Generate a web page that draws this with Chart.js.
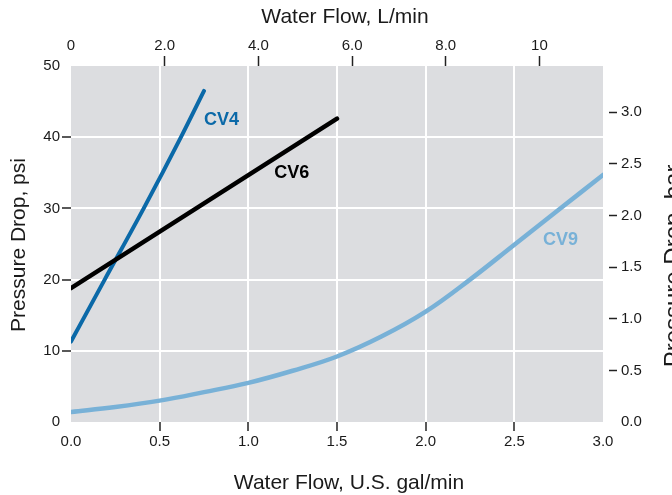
<!DOCTYPE html>
<html>
<head>
<meta charset="utf-8">
<script src="https://cdn.jsdelivr.net/npm/chart.js@4.4.0/dist/chart.umd.min.js"></script>
<style>
html, body { margin: 0; padding: 0; background: #ffffff; }
#wrap { width: 672px; height: 495px; }
</style>
</head>
<body>
<div id="wrap"><canvas id="flowchart" width="672" height="495"></canvas></div>
<script>
// flow in U.S. gal/min, pressure drop in psi
const cv4Flow = [0, 0.19, 0.41, 0.62, 0.75];
const cv4Psi  = [11.3, 20, 30, 40, 46.5];
const cv6Flow = [0, 1.5];
const cv6Psi  = [18.8, 42.6];
const cv9Flow = [0, 0.25, 0.5, 0.75, 1.0, 1.25, 1.5, 1.75, 2.0, 2.25, 2.5, 2.75, 3.0];
const cv9Psi  = [1.4, 2.1, 3.0, 4.2, 5.5, 7.2, 9.2, 12.0, 15.5, 20.0, 24.9, 29.8, 34.7];

const galTicks = ['0.0', '0.5', '1.0', '1.5', '2.0', '2.5', '3.0'];
const lpmTicks = ['0', '2.0', '4.0', '6.0', '8.0', '10'];
const psiTicks = ['0', '10', '20', '30', '40', '50'];
const barTicks = ['0.0', '0.5', '1.0', '1.5', '2.0', '2.5', '3.0'];

const LPM_PER_GAL = 3.78541;
const PSI_PER_BAR = 14.5038;
const FONT = '"Liberation Sans", Arial, Helvetica, sans-serif';

function pts(xs, ys) {
    return xs.map((x, i) => ({ x: x, y: ys[i] }));
}

// curve names placed beside each line (data coordinates)
const curveLabels = [
    { text: 'CV4', x: 0.849, y: 42.4, color: '#0b69a8' },
    { text: 'CV6', x: 1.245, y: 35.0, color: '#000000' },
    { text: 'CV9', x: 2.761, y: 25.5, color: '#78b1d7' }
];

const decor = {
    id: 'decor',
    beforeDraw(chart) {
        const a = chart.chartArea;
        const ctx = chart.ctx;
        ctx.save();
        ctx.fillStyle = '#dcdde0';
        ctx.fillRect(a.left, a.top, a.right - a.left, a.bottom - a.top);
        ctx.restore();
    },
    afterDraw(chart) {
        const ctx = chart.ctx;
        const xs = chart.scales.x;
        const ys = chart.scales.y;
        ctx.save();
        ctx.fillStyle = '#1a1a1a';
        ctx.font = '21px ' + FONT;
        ctx.textAlign = 'center';
        ctx.textBaseline = 'middle';
        ctx.fillText('Water Flow, L/min', 345, 17);
        ctx.fillText('Water Flow, U.S. gal/min', 349, 483);

        ctx.save();
        ctx.translate(19, 245);
        ctx.rotate(-Math.PI / 2);
        ctx.fillText('Pressure Drop, psi', 0, 0);
        ctx.restore();

        // right title runs off the edge of the picture
        ctx.save();
        ctx.translate(681, 266);
        ctx.rotate(-Math.PI / 2);
        ctx.font = '24px ' + FONT;
        ctx.textBaseline = 'alphabetic';
        ctx.fillText('Pressure Drop, bar', 0, 0);
        ctx.restore();

        ctx.font = 'bold 18px ' + FONT;
        curveLabels.forEach(l => {
            ctx.fillStyle = l.color;
            ctx.fillText(l.text, xs.getPixelForValue(l.x), ys.getPixelForValue(l.y));
        });
        ctx.restore();
    }
};

function inner(lo, hi, col) {
    return c => (c.tick && c.tick.value > lo + 1e-6 && c.tick.value < hi - 1e-6) ? col : 'rgba(0,0,0,0)';
}

Chart.defaults.font.family = FONT;
Chart.defaults.font.size = 15;
Chart.defaults.color = '#1a1a1a';

new Chart(document.getElementById('flowchart'), {
    type: 'line',
    data: {
        datasets: [
            {
                label: 'CV6',
                data: pts(cv6Flow, cv6Psi),
                borderColor: '#000000',
                borderWidth: 4.5,
                tension: 0
            },
            {
                label: 'CV4',
                data: pts(cv4Flow, cv4Psi),
                borderColor: '#0b69a8',
                borderWidth: 4,
                tension: 0.3,
                cubicInterpolationMode: 'monotone'
            },
            {
                label: 'CV9',
                data: pts(cv9Flow, cv9Psi),
                borderColor: '#78b1d7',
                borderWidth: 4.5,
                tension: 0.4
            }
        ]
    },
    options: {
        responsive: false,
        devicePixelRatio: 1,
        animation: false,
        layout: { padding: 0 },
        elements: {
            point: { radius: 0 },
            line: { borderCapStyle: 'round', fill: false }
        },
        plugins: {
            legend: { display: false },
            tooltip: { enabled: false }
        },
        scales: {
            x: {
                type: 'linear',
                position: 'bottom',
                min: 0,
                max: 3,
                afterFit: s => { s.height = 73; },
                border: { display: false },
                grid: {
                    color: inner(0, 3, '#ffffff'),
                    lineWidth: 2,
                    tickColor: inner(0, 3, '#222222'),
                    tickWidth: 1.5,
                    tickLength: 9
                },
                ticks: {
                    stepSize: 0.5,
                    padding: 2,
                    maxRotation: 0,
                    callback: (v, i) => galTicks[i]
                }
            },
            x2: {
                type: 'linear',
                position: 'top',
                min: 0,
                max: 3 * LPM_PER_GAL,
                afterFit: s => { s.height = 66; },
                border: { display: false },
                grid: {
                    drawOnChartArea: false,
                    tickColor: inner(0, 99, '#222222'),
                    tickWidth: 1.5,
                    tickLength: 10
                },
                ticks: {
                    stepSize: 2,
                    includeBounds: false,
                    padding: 1,
                    maxRotation: 0,
                    callback: (v, i) => lpmTicks[i]
                }
            },
            y: {
                type: 'linear',
                position: 'left',
                min: 0,
                max: 50,
                afterFit: s => { s.width = 71; },
                border: { display: false },
                grid: {
                    color: inner(0, 50, '#ffffff'),
                    lineWidth: 2,
                    tickColor: inner(0, 50, '#222222'),
                    tickWidth: 1.5,
                    tickLength: 9
                },
                ticks: {
                    stepSize: 10,
                    padding: 2,
                    callback: (v, i) => psiTicks[i]
                }
            },
            y2: {
                type: 'linear',
                position: 'right',
                min: 0,
                max: 50 / PSI_PER_BAR,
                afterFit: s => { s.width = 69; },
                border: { display: false },
                grid: {
                    drawOnChartArea: false,
                    tickColor: inner(0, 99, '#222222'),
                    tickWidth: 1.5,
                    tickLength: 14,
                    tickBorderDash: [8, 6],
                    tickBorderDashOffset: 8
                },
                ticks: {
                    stepSize: 0.5,
                    includeBounds: false,
                    padding: 4,
                    callback: (v, i) => barTicks[i]
                }
            }
        }
    },
    plugins: [decor]
});
</script>
</body>
</html>
